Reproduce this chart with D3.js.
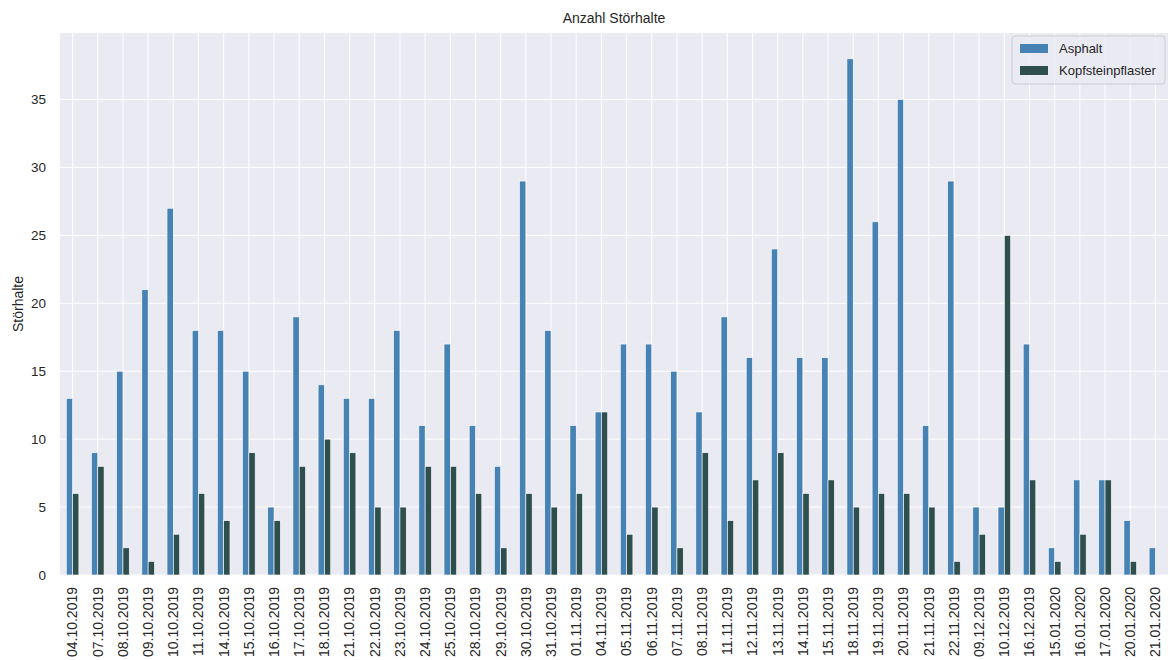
<!DOCTYPE html>
<html>
<head>
<meta charset="utf-8">
<script src="https://cdn.jsdelivr.net/npm/d3@7"></script>
<style>
  body { margin: 0; background: #fff; }
  svg text { font-family: "Liberation Sans", Arial, sans-serif; }
</style>
</head>
<body>
<svg id="chart" width="1168" height="660"></svg>
<script>
// Dates of the recorded days (x categories)
const dates = ["04.10.2019", "07.10.2019", "08.10.2019", "09.10.2019", "10.10.2019", "11.10.2019",
    "14.10.2019", "15.10.2019", "16.10.2019", "17.10.2019", "18.10.2019", "21.10.2019",
    "22.10.2019", "23.10.2019", "24.10.2019", "25.10.2019", "28.10.2019", "29.10.2019",
    "30.10.2019", "31.10.2019", "01.11.2019", "04.11.2019", "05.11.2019", "06.11.2019",
    "07.11.2019", "08.11.2019", "11.11.2019", "12.11.2019", "13.11.2019", "14.11.2019",
    "15.11.2019", "18.11.2019", "19.11.2019", "20.11.2019", "21.11.2019", "22.11.2019",
    "09.12.2019", "10.12.2019", "16.12.2019", "15.01.2020", "16.01.2020", "17.01.2020",
    "20.01.2020", "21.01.2020"];

// Stops counted on asphalt
const asphalt = [13, 9, 15, 21, 27, 18, 18, 15, 5, 19, 14, 13, 13, 18, 11, 17, 11, 8,
    29, 18, 11, 12, 17, 17, 15, 12, 19, 16, 24, 16, 16, 38, 26, 35, 11, 29, 5, 5, 17, 2, 7, 7, 4, 2];

// Stops counted on cobblestone
const kopfstein = [6, 8, 2, 1, 3, 6, 4, 9, 4, 8, 10, 9, 5, 5, 8, 8, 6, 2,
    6, 5, 6, 12, 3, 5, 2, 9, 4, 7, 9, 6, 7, 5, 6, 6, 5, 1, 3, 25, 7, 1, 3, 7, 1, 0];

const yTicks = [0, 5, 10, 15, 20, 25, 30, 35];

const seriesNames = ["Asphalt", "Kopfsteinpflaster"];
const seriesColors = ["#4682B4", "#2F4F4F"];

// Layout of the plot area
const plotLeft = 60, plotRight = 1168, plotTop = 33, plotBottom = 575;

const svg = d3.select("#chart");

// Band scale: one slot per date, bars take half of each slot
const x = d3.scaleBand()
    .domain(dates)
    .range([plotLeft, plotRight])
    .paddingInner(0)
    .paddingOuter(0);

const y = d3.scaleLinear()
    .domain([0, d3.max(asphalt) * 1.05])
    .range([plotBottom, plotTop]);

// Background
svg.append("rect")
    .attr("x", plotLeft)
    .attr("y", plotTop)
    .attr("width", plotRight - plotLeft)
    .attr("height", plotBottom - plotTop)
    .style("fill", "#EAEAF2");

// Grid lines
svg.append("g")
    .selectAll("line.hgrid")
    .data(yTicks)
    .enter()
    .append("line")
    .attr("x1", plotLeft)
    .attr("x2", plotRight)
    .attr("y1", d => y(d))
    .attr("y2", d => y(d))
    .style("stroke", "#fff")
    .style("stroke-width", 1);

svg.append("g")
    .selectAll("line.vgrid")
    .data(dates)
    .enter()
    .append("line")
    .attr("x1", d => x(d) + x.bandwidth() / 2)
    .attr("x2", d => x(d) + x.bandwidth() / 2)
    .attr("y1", plotTop)
    .attr("y2", plotBottom)
    .style("stroke", "#fff")
    .style("stroke-width", 1);

// Bars
const barW = x.bandwidth() * 0.25;
[asphalt, kopfstein].forEach((vals, s) => {
    svg.append("g")
        .selectAll("rect")
        .data(vals)
        .enter()
        .append("rect")
        .attr("x", (d, i) => x(dates[i]) + x.bandwidth() / 2 - barW + s * barW)
        .attr("y", d => y(d))
        .attr("width", barW)
        .attr("height", d => y(0) - y(d))
        .style("fill", seriesColors[s])
        .style("stroke", d => d > 0 ? "#fff" : "none")
        .style("stroke-width", 0.6);
});

// Y axis
const yAxis = svg.append("g")
    .attr("transform", `translate(${plotLeft},0)`)
    .call(d3.axisLeft(y).tickValues(yTicks).tickSize(0).tickPadding(14));
yAxis.select(".domain").remove();
yAxis.selectAll("text")
    .style("font-size", "13.5px")
    .style("fill", "#262626");

// X axis
const xAxis = svg.append("g")
    .attr("transform", `translate(0,${plotBottom})`)
    .call(d3.axisBottom(x).tickSize(0).tickPadding(0));
xAxis.select(".domain").remove();
xAxis.selectAll("text")
    .attr("transform", "rotate(-90)")
    .attr("x", -12)
    .attr("y", 0)
    .attr("dy", "0.35em")
    .style("text-anchor", "end")
    .style("font-size", "14px")
    .style("fill", "#262626");

// Title
svg.append("text")
    .attr("x", (plotLeft + plotRight) / 2)
    .attr("y", 23)
    .attr("text-anchor", "middle")
    .style("font-size", "14px")
    .style("fill", "#262626")
    .text("Anzahl Störhalte");

// Y label
svg.append("text")
    .attr("transform", `translate(23,${(plotTop + plotBottom) / 2}) rotate(-90)`)
    .attr("text-anchor", "middle")
    .style("font-size", "14px")
    .style("fill", "#262626")
    .text("Störhalte");

// Legend
const lg = svg.append("g").attr("transform", "translate(1012,36)");
lg.append("rect")
    .attr("width", 153)
    .attr("height", 48)
    .attr("rx", 3)
    .style("fill", "#EAEAF2")
    .style("fill-opacity", 0.8)
    .style("stroke", "#cccccc")
    .style("stroke-width", 1);
seriesNames.forEach((name, i) => {
    lg.append("rect")
        .attr("x", 8)
        .attr("y", 8 + i * 22)
        .attr("width", 28)
        .attr("height", 9)
        .style("fill", seriesColors[i]);
    lg.append("text")
        .attr("x", 47)
        .attr("y", 17 + i * 22)
        .style("font-size", "13px")
        .style("fill", "#262626")
        .text(name);
});
</script>
</body>
</html>
